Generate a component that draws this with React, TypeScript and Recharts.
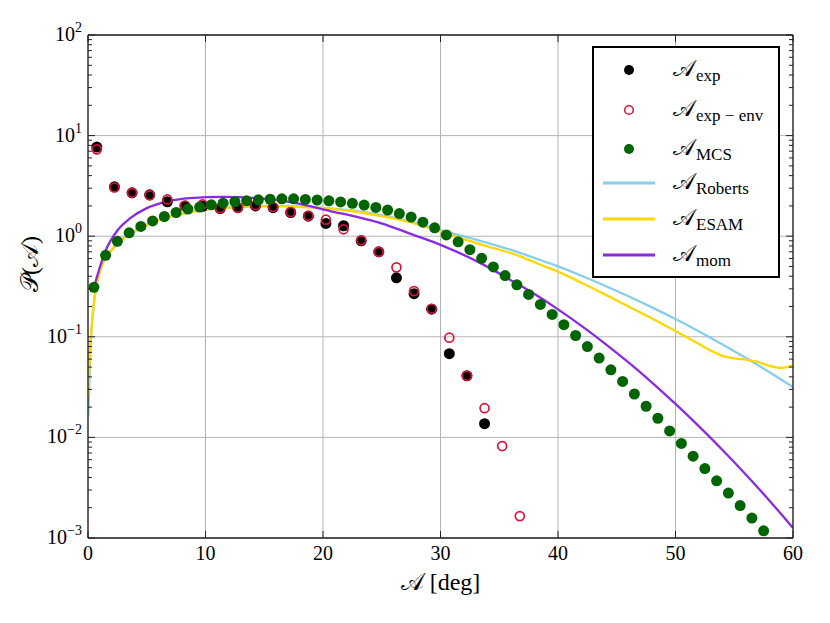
import React from 'react'
import {
  ComposedChart, Scatter, Line, XAxis, YAxis, CartesianGrid, Legend,
} from 'recharts'

const SERIF = '"Liberation Serif", "DejaVu Serif", serif'
const SCRIPT = '"DejaVu Serif", "DejaVu Sans", "Noto Sans", serif'
const A = '𝒜'

// experiment, 1.5 deg bins
const expAngle = [0.75, 2.25, 3.75, 5.25, 6.75, 8.25, 9.75, 11.25, 12.75, 14.25, 15.75, 17.25, 18.75, 20.25, 21.75, 23.25, 24.75, 26.25, 27.75, 29.25, 30.75, 32.25, 33.75]
const expValue = [7.7, 3.1, 2.7, 2.58, 2.2, 2.0, 1.98, 1.88, 1.92, 2.0, 1.92, 1.72, 1.58, 1.34, 1.27, 0.9, 0.7, 0.386, 0.268, 0.188, 0.068, 0.041, 0.0137]

const envAngle = [0.75, 2.25, 3.75, 5.25, 6.75, 8.25, 9.75, 11.25, 12.75, 14.25, 15.75, 17.25, 18.75, 20.25, 21.75, 23.25, 24.75, 26.25, 27.75, 29.25, 30.75, 32.25, 33.75, 35.25, 36.75]
const envValue = [7.3, 3.05, 2.7, 2.55, 2.32, 2.02, 2.07, 1.9, 1.92, 2.03, 1.95, 1.74, 1.6, 1.46, 1.17, 0.91, 0.7, 0.49, 0.285, 0.19, 0.098, 0.041, 0.0195, 0.0082, 0.00165]

// Monte Carlo, 1 deg bins
const mcsAngle = [0.5, 1.5, 2.5, 3.5, 4.5, 5.5, 6.5, 7.5, 8.5, 9.5, 10.5, 11.5, 12.5, 13.5, 14.5, 15.5, 16.5, 17.5, 18.5, 19.5, 20.5, 21.5, 22.5, 23.5, 24.5, 25.5, 26.5, 27.5, 28.5, 29.5, 30.5, 31.5, 32.5, 33.5, 34.5, 35.5, 36.5, 37.5, 38.5, 39.5, 40.5, 41.5, 42.5, 43.5, 44.5, 45.5, 46.5, 47.5, 48.5, 49.5, 50.5, 51.5, 52.5, 53.5, 54.5, 55.5, 56.5, 57.5]
const mcsValue = [0.31, 0.645, 0.89, 1.08, 1.25, 1.42, 1.57, 1.72, 1.86, 1.95, 2.05, 2.13, 2.2, 2.25, 2.3, 2.33, 2.35, 2.35, 2.32, 2.29, 2.25, 2.19, 2.12, 2.04, 1.93, 1.82, 1.68, 1.55, 1.38, 1.21, 1.03, 0.88, 0.735, 0.603, 0.495, 0.406, 0.329, 0.264, 0.21, 0.167, 0.132, 0.103, 0.08, 0.0615, 0.047, 0.036, 0.027, 0.0204, 0.0155, 0.0116, 0.0087, 0.0065, 0.0049, 0.0037, 0.0028, 0.0021, 0.00158, 0.00118]

const robertsAngle = [0.02, 0.1, 0.2, 0.3, 0.45, 0.65, 0.9, 1.2, 1.7, 2.3, 3.0, 3.9, 5.6, 7.6, 9.8, 12.9, 15.8, 19.2, 23.1, 25, 27.7, 30, 33.4, 36, 38.5, 40, 42, 44, 46, 48, 50, 52, 54, 56, 58, 60]
const robertsValue = [0.016, 0.03, 0.07, 0.12, 0.19, 0.29, 0.4, 0.52, 0.66, 0.79, 0.95, 1.11, 1.4, 1.63, 1.83, 1.96, 2.0, 1.94, 1.76, 1.62, 1.38, 1.15, 0.9, 0.73, 0.58, 0.501, 0.405, 0.322, 0.253, 0.196, 0.15, 0.113, 0.0838, 0.0614, 0.0444, 0.0316]

const esamAngle = [0.02, 0.1, 0.2, 0.3, 0.45, 0.65, 0.9, 1.2, 1.7, 2.3, 3.0, 3.9, 5.6, 7.6, 9.8, 12.9, 15.8, 19.2, 23.1, 25, 27.7, 30, 33.4, 36.8, 38.5, 40, 42, 44, 46, 48, 50, 52, 53, 54, 55, 56, 57, 58, 59, 60]
const esamValue = [0.025, 0.045, 0.08, 0.12, 0.19, 0.29, 0.4, 0.52, 0.66, 0.79, 0.94, 1.1, 1.38, 1.62, 1.82, 1.95, 1.99, 1.92, 1.73, 1.58, 1.35, 1.11, 0.83, 0.63, 0.52, 0.445, 0.345, 0.264, 0.2, 0.152, 0.114, 0.0847, 0.0731, 0.0646, 0.061, 0.0592, 0.0562, 0.0513, 0.049, 0.0519]

const momAngle = [0.5, 1.5, 2.5, 3.6, 5.0, 6.7, 8.7, 11.5, 14.4, 16.4, 17.7, 20.6, 23.2, 24.9, 27.7, 30.0, 33.4, 36.2, 38, 40, 42, 44, 46, 48, 50, 52, 54, 56, 58, 60]
const momValue = [0.31, 0.72, 1.14, 1.51, 1.9, 2.21, 2.39, 2.46, 2.39, 2.26, 2.13, 1.78, 1.52, 1.35, 1.03, 0.82, 0.54, 0.354, 0.266, 0.1875, 0.1285, 0.0857, 0.0556, 0.0351, 0.0215, 0.01285, 0.0075, 0.00426, 0.00235, 0.00126]

const xTicks = [0, 10, 20, 30, 40, 50, 60]
const decades = [0.001, 0.01, 0.1, 1, 10, 100]
const minorSteps = [2, 3, 4, 5, 6, 7, 8, 9]
const yTicks = decades.concat(
  decades.slice(0, -1).flatMap(d => minorSteps.map(k => +(k * d).toPrecision(3))),
)

const legendItems = [
  { key: 'exp', sub: 'exp', kind: 'dot', color: '#000000' },
  { key: 'env', sub: 'exp − env', kind: 'ring', color: '#dc143c' },
  { key: 'mcs', sub: 'MCS', kind: 'dot', color: '#006400' },
  { key: 'roberts', sub: 'Roberts', kind: 'line', color: '#87ceeb' },
  { key: 'esam', sub: 'ESAM', kind: 'line', color: '#ffd700' },
  { key: 'mom', sub: 'mom', kind: 'line', color: '#8a2be2' },
]

const pts = (xs: number[], ys: number[]) => xs.map((x, i) => ({ x, y: ys[i] }))

const isMajor = (v: number) => decades.includes(v)
const expOf = (v: number) => {
  const e = Math.round(Math.log10(v))
  return e < 0 ? `−${-e}` : `${e}`
}

function LeftTick(props: any) {
  const { x, y, payload } = props
  const v = payload.value
  const major = isMajor(v)
  return (
    <g>
      <line x1={x} x2={x + (major ? 7 : 4)} y1={y} y2={y} stroke="#222" strokeWidth={1} />
      {major && (
        <text x={x - 6} y={y + 6} textAnchor="end" fontFamily={SERIF} fontSize={20} fill="#000">
          10<tspan dy={-9} fontSize={14}>{expOf(v)}</tspan>
        </text>
      )}
    </g>
  )
}

function RightTick(props: any) {
  const { x, y, payload } = props
  const major = isMajor(payload.value)
  return <line x1={x} x2={x - (major ? 7 : 4)} y1={y} y2={y} stroke="#222" strokeWidth={1} />
}

function BottomTick(props: any) {
  const { x, y, payload } = props
  return (
    <g>
      <line x1={x} x2={x} y1={y} y2={y - 7} stroke="#222" strokeWidth={1} />
      <text x={x} y={y + 22} textAnchor="middle" fontFamily={SERIF} fontSize={20} fill="#000">
        {payload.value}
      </text>
    </g>
  )
}

function TopTick(props: any) {
  const { x, y } = props
  return <line x1={x} x2={x} y1={y} y2={y + 7} stroke="#222" strokeWidth={1} />
}

function XTitle(props: any) {
  const { viewBox } = props
  return (
    <text x={viewBox.x + viewBox.width / 2} y={viewBox.y + 52} textAnchor="middle" fontSize={24} fill="#000">
      <tspan fontFamily={SCRIPT}>{A}</tspan>
      <tspan fontFamily={SERIF}> [deg]</tspan>
    </text>
  )
}

function YTitle(props: any) {
  const { viewBox } = props
  const cx = viewBox.x + 2
  const cy = 264
  return (
    <text x={cx} y={cy} transform={`rotate(-90 ${cx} ${cy})`} textAnchor="middle" dominantBaseline="central"
      fontSize={24} fill="#000">
      <tspan fontFamily={SCRIPT}>𝒫</tspan>
      <tspan fontFamily={SERIF}>(</tspan>
      <tspan fontFamily={SCRIPT}>{A}</tspan>
      <tspan fontFamily={SERIF}>)</tspan>
    </text>
  )
}

function LegendBox() {
  const rowTops = [22, 62, 101, 135, 171, 207]
  return (
    <div style={{
      position: 'relative', width: 188, height: 232, border: '2px solid #000',
      background: '#fff', boxSizing: 'border-box',
    }}>
      {legendItems.map((it, i) => (
        <div key={it.key} style={{ position: 'absolute', left: 0, top: rowTops[i] - 14, height: 28, width: '100%' }}>
          <svg width={70} height={28} style={{ position: 'absolute', left: 0, top: 0 }}>
            {it.kind === 'dot' && <circle cx={35} cy={14} r={5} fill={it.color} />}
            {it.kind === 'ring' && <circle cx={35} cy={14} r={4.3} fill="none" stroke={it.color} strokeWidth={1.6} />}
            {it.kind === 'line' && <line x1={9} x2={61} y1={14} y2={14} stroke={it.color} strokeWidth={3} />}
          </svg>
          <div style={{ position: 'absolute', left: 79, top: -2, whiteSpace: 'nowrap', lineHeight: '28px' }}>
            <span style={{ fontFamily: SCRIPT, fontSize: 23 }}>{A}</span>
            <span style={{ fontFamily: SERIF, fontSize: 17, position: 'relative', top: 5, marginLeft: 1 }}>{it.sub}</span>
          </div>
        </div>
      ))}
    </div>
  )
}

export default function App() {
  return (
    <div style={{ position: 'absolute', left: 0, top: 0, width: 830, height: 623, background: '#fff' }}>
      <ComposedChart width={830} height={623} margin={{ top: 34, right: 36, left: 28, bottom: 55 }}>
        <CartesianGrid
          stroke="#b4b4b4"
          strokeWidth={1}
          horizontalValues={decades}
          verticalValues={xTicks}
        />
        <XAxis
          dataKey="x" type="number" domain={[0, 60]} ticks={xTicks} allowDataOverflow
          height={30} tickSize={0} tickMargin={0} tickLine={false} interval={0}
          axisLine={{ stroke: '#222', strokeWidth: 1.3 }}
          tick={(p: any) => <BottomTick {...p} />}
          label={{ content: (p: any) => <XTitle {...p} /> }}
        />
        <XAxis
          xAxisId="top" orientation="top" dataKey="x" type="number" domain={[0, 60]} ticks={xTicks}
          allowDataOverflow height={1} tickSize={0} tickMargin={0} tickLine={false} interval={0}
          axisLine={{ stroke: '#222', strokeWidth: 1.3 }}
          tick={(p: any) => <TopTick {...p} />}
        />
        <YAxis
          dataKey="y" scale="log" type="number" domain={[0.001, 100]} ticks={yTicks} allowDataOverflow
          width={60} tickSize={0} tickMargin={0} tickLine={false} interval={0}
          axisLine={{ stroke: '#222', strokeWidth: 1.3 }}
          tick={(p: any) => <LeftTick {...p} />}
          label={{ content: (p: any) => <YTitle {...p} /> }}
        />
        <YAxis
          yAxisId="right" orientation="right" dataKey="y" scale="log" type="number" domain={[0.001, 100]}
          ticks={yTicks} allowDataOverflow width={1} tickSize={0} tickMargin={0} tickLine={false} interval={0}
          axisLine={{ stroke: '#222', strokeWidth: 1.3 }}
          tick={(p: any) => <RightTick {...p} />}
        />
        <Legend
          layout="vertical" align="center" verticalAlign="middle"
          wrapperStyle={{ left: 592, top: 46, width: 188, height: 232 }}
          content={() => <LegendBox />}
        />
        <Scatter
          data={pts(expAngle, expValue)} dataKey="y" isAnimationActive={false}
          shape={(p: any) => <circle cx={p.cx} cy={p.cy} r={5.5} fill="#000" />}
        />
        <Scatter
          data={pts(envAngle, envValue)} dataKey="y" isAnimationActive={false}
          shape={(p: any) => <circle cx={p.cx} cy={p.cy} r={4.5} fill="none" stroke="#dc143c" strokeWidth={1.7} />}
        />
        <Scatter
          data={pts(mcsAngle, mcsValue)} dataKey="y" isAnimationActive={false}
          shape={(p: any) => <circle cx={p.cx} cy={p.cy} r={5.5} fill="#006400" />}
        />
        <Line data={pts(robertsAngle, robertsValue)} dataKey="y" type="monotone" stroke="#87ceeb"
          strokeWidth={2.3} dot={false} isAnimationActive={false} />
        <Line data={pts(esamAngle, esamValue)} dataKey="y" type="monotone" stroke="#ffd700"
          strokeWidth={2.3} dot={false} isAnimationActive={false} />
        <Line data={pts(momAngle, momValue)} dataKey="y" type="monotone" stroke="#8a2be2"
          strokeWidth={2.3} dot={false} isAnimationActive={false} />
      </ComposedChart>
    </div>
  )
}
